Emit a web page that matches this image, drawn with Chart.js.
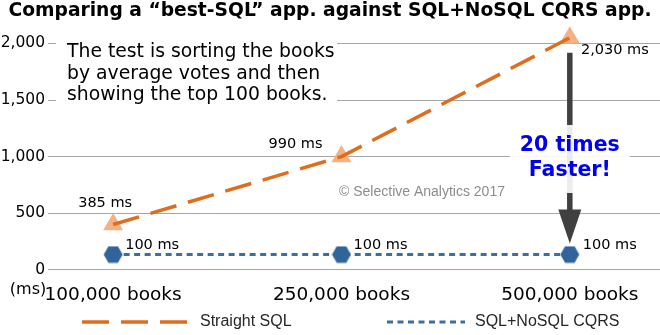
<!DOCTYPE html>
<html><head><meta charset="utf-8">
<script src="https://cdn.jsdelivr.net/npm/chart.js@4.4.1/dist/chart.umd.min.js"></script>
<style>html,body{margin:0;padding:0;background:#fff;}#wrap{width:660px;height:335px;position:relative;}</style>
</head><body><div id="wrap"><canvas id="c"></canvas></div>
<script>
// ---- data ----
const categories = ['100,000 books', '250,000 books', '500,000 books'];
const sqlValues = [400, 1000, 2050];
const cqrsValues = [135, 135, 135];
const sqlLabels = ['385 ms', '990 ms', '2,030 ms'];
const cqrsLabels = ['100 ms', '100 ms', '100 ms'];
const yTicks = [0, 500, 1000, 1500, 2000];
const yTickLabels = ['0', '500', '1,000', '1,500', '2,000'];
const seriesNames = ['Straight SQL', 'SQL+NoSQL CQRS'];
const titleText = 'Comparing a \u201cbest-SQL\u201d app. against SQL+NoSQL CQRS app.';
const noteLines = ['The test is sorting the books', 'by average votes and then', 'showing the top 100 books.'];
const calloutLines = ['20 times', 'Faster!'];
const watermark = '\u00a9 Selective Analytics 2017';
const unitLabel = '(ms)';

// ---- styles ----
const WIDE = '"DejaVu Sans", sans-serif';
const ARIAL = '"Liberation Sans", Arial, sans-serif';
const SQL_LINE = '#DE6E1E', SQL_MARK = '#F4B183';
const CQRS_LINE = '#3A6EA5', CQRS_MARK = '#31659A';

const hex = document.createElement('canvas');
hex.width = 20; hex.height = 18;
(function () {
  const g = hex.getContext('2d');
  g.fillStyle = CQRS_MARK; g.beginPath();
  for (let i = 0; i < 6; i++) {
    const a = Math.PI / 3 * i, px = 10 + 9.5 * Math.cos(a), py = 9 + 9.5 * Math.sin(a);
    i ? g.lineTo(px, py) : g.moveTo(px, py);
  }
  g.closePath(); g.fill();
})();

const pts = arr => arr.map((v, i) => ({ x: i, y: v }));

const sqlLabelOffsets = [[-8, -21], [-46, -12], [45, 12]];
const cqrsLabelOffsets = [[39, -9], [39, -9], [40, -9]];

const deco = {
  id: 'deco',
  afterDatasetsDraw(chart) {
    const { ctx } = chart, xs = chart.scales.x, ys = chart.scales.y;
    ctx.save();
    // note box
    ctx.fillStyle = '#fff';
    ctx.fillRect(56, 29, 281, 82);
    ctx.fillStyle = '#000';
    ctx.font = '18.8px ' + WIDE;
    ctx.textAlign = 'left'; ctx.textBaseline = 'alphabetic';
    noteLines.forEach((t, i) => ctx.fillText(t, 67, 57 + 21.5 * i));
    // watermark
    ctx.fillStyle = '#8C8C8C';
    ctx.font = '14px ' + ARIAL;
    ctx.textAlign = 'center'; ctx.textBaseline = 'middle';
    ctx.fillText(watermark, 422, 192);
    // arrow
    const ax = xs.getPixelForValue(2);
    const yTop = ys.getPixelForValue(sqlValues[2]) + 15;
    const yTip = ys.getPixelForValue(cqrsValues[2]) - 11;
    ctx.strokeStyle = '#404040'; ctx.lineWidth = 5.5;
    ctx.beginPath(); ctx.moveTo(ax, yTop); ctx.lineTo(ax, yTip - 30); ctx.stroke();
    ctx.fillStyle = '#404040';
    ctx.beginPath(); ctx.moveTo(ax - 11.5, yTip - 34); ctx.lineTo(ax + 11.5, yTip - 34); ctx.lineTo(ax, yTip); ctx.closePath(); ctx.fill();
    // callout
    ctx.fillStyle = 'rgba(255,255,255,0.9)';
    ctx.fillRect(ax - 60, 125, 120, 68);
    ctx.fillStyle = '#0000F0';
    ctx.font = 'bold 20.5px ' + WIDE;
    ctx.fillText(calloutLines[0], ax, 146);
    ctx.fillText(calloutLines[1], ax, 171);
    // data labels
    ctx.fillStyle = '#000';
    ctx.font = '14.5px ' + WIDE;
    const m0 = chart.getDatasetMeta(0).data, m2 = chart.getDatasetMeta(2).data;
    m0.forEach((p, i) => ctx.fillText(sqlLabels[i], p.x + sqlLabelOffsets[i][0], p.y + sqlLabelOffsets[i][1]));
    m2.forEach((p, i) => ctx.fillText(cqrsLabels[i], p.x + cqrsLabelOffsets[i][0], p.y + cqrsLabelOffsets[i][1]));
    ctx.restore();
  },
  afterDraw(chart) {
    const { ctx } = chart;
    ctx.save();
    // unit label
    ctx.fillStyle = '#000';
    ctx.font = '16px ' + WIDE;
    ctx.textAlign = 'center'; ctx.textBaseline = 'middle';
    ctx.fillText(unitLabel, 28, 290);
    // legend
    const items = [
      { ds: chart.data.datasets[1], x0: 82, x1: 192, tx: 200 },
      { ds: chart.data.datasets[2], x0: 387, x1: 465, tx: 475 }
    ];
    const ly = 322;
    items.forEach(it => {
      ctx.strokeStyle = it.ds.borderColor;
      ctx.lineWidth = it.ds.borderWidth;
      ctx.setLineDash(it.ds.borderDash);
      ctx.beginPath(); ctx.moveTo(it.x0, ly); ctx.lineTo(it.x1, ly); ctx.stroke();
      ctx.setLineDash([]);
      ctx.fillStyle = '#262626';
      ctx.font = '16px ' + ARIAL;
      ctx.textAlign = 'left';
      ctx.fillText(it.ds.label, it.tx, ly);
    });
    ctx.restore();
  }
};

new Chart(document.getElementById('c'), {
  type: 'line',
  data: {
    datasets: [
      { label: seriesNames[0], data: pts(sqlValues), showLine: false, pointStyle: 'triangle', pointRadius: 11.5,
        pointBackgroundColor: SQL_MARK, pointBorderColor: SQL_MARK, pointBorderWidth: 0, order: 3, clip: false },
      { label: seriesNames[0], data: pts(sqlValues), borderColor: SQL_LINE, borderWidth: 3.5, borderDash: [27, 12],
        pointRadius: 0, fill: false, order: 2, clip: false },
      { label: seriesNames[1], data: pts(cqrsValues), borderColor: CQRS_LINE, borderWidth: 3, borderDash: [6, 4.5],
        pointStyle: hex, pointRadius: 9, fill: false, order: 1, clip: false }
    ]
  },
  options: {
    responsive: true, maintainAspectRatio: false, animation: false,
    layout: { autoPadding: false, padding: { left: 0, right: 0, top: 0, bottom: 15 } },
    plugins: {
      legend: { display: false }, tooltip: { enabled: false },
      title: { display: true, text: titleText, color: '#000', font: { family: WIDE, weight: 'bold', size: 18.7 },
        padding: { top: 0, bottom: 21 } }
    },
    scales: {
      x: {
        type: 'linear', min: -0.259, max: 2.395,
        afterBuildTicks: s => { s.ticks = categories.map((c, i) => ({ value: i })); },
        afterFit: s => { s.paddingLeft = 0; s.paddingRight = 0; },
        ticks: { callback: (v) => categories[v], color: '#000', font: { family: WIDE, size: 18.5 }, padding: 14, maxRotation: 0, autoSkip: false },
        grid: { display: false, drawTicks: false }, border: { display: false }
      },
      y: {
        min: 0, max: 2000,
        afterBuildTicks: s => { s.ticks = yTicks.map(v => ({ value: v })); },
        afterFit: s => { s.width = 54; },
        ticks: { callback: (v) => yTickLabels[yTicks.indexOf(v)], color: '#000', font: { family: WIDE, size: 15.5 }, padding: 3 },
        grid: { color: '#A6A6A6', lineWidth: 1, tickLength: 6 }, border: { display: false }
      }
    }
  },
  plugins: [deco]
});
</script></body></html>
